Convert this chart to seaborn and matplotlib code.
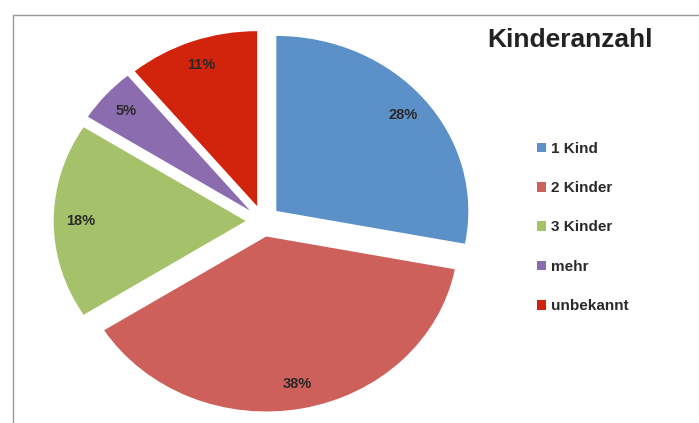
import matplotlib.pyplot as plt
import seaborn as sns
from matplotlib.lines import Line2D

categories = ['1 Kind', '2 Kinder', '3 Kinder', 'mehr', 'unbekannt']
shares = [28, 38, 18, 5, 11]
colors = ['#5B90C8', '#CD605B', '#A5C26A', '#8B6CAF', '#D2230C']

sns.set_theme(style='white')
plt.rcParams['font.family'] = ['Liberation Sans', 'DejaVu Sans']

fig = plt.figure(figsize=(6.99, 4.23), dpi=100)

# pie axes placed so the (stretched) pie sits left of center
W, H = 699, 423
cx, cy = 263, 221          # pie center, pixels from top-left
sx, sy = 192, 175          # pixels per unit radius
xl, yl = 1.2, 1.15
ax = fig.add_axes([(cx - xl * sx) / W, (H - cy - yl * sy) / H,
                   2 * xl * sx / W, 2 * yl * sy / H])

wedges, texts, autotexts = ax.pie(
    shares, colors=colors, startangle=90, counterclock=False,
    explode=[0.09] * len(shares), autopct='%d%%', pctdistance=0.86,
    wedgeprops=dict(linewidth=0),
    textprops=dict(fontsize=10.5, fontweight='bold', color='#2a2a2a'))
ax.set_aspect('auto')
ax.set_xlim(-xl, xl)
ax.set_ylim(-yl, yl)
ax.axis('off')

leg = fig.legend(wedges, categories, loc='upper left',
                 bbox_to_anchor=(523 / W, 1 - 128 / H),
                 frameon=False, handlelength=0.6, handleheight=0.6,
                 handletextpad=0.35, labelspacing=1.66,
                 prop=dict(size=11, weight='bold'))
for t in leg.get_texts():
    t.set_color('#2a2a2a')

fig.text(570 / W, 1 - 40 / H, 'Kinderanzahl', fontsize=19, fontweight='bold',
         color='#222222', ha='center', va='center')

# gray frame (top and left edges visible)
fig.add_artist(Line2D([13 / W, 1], [1 - 15 / H, 1 - 15 / H], color='#999999', lw=1))
fig.add_artist(Line2D([13 / W, 13 / W], [0, 1 - 15 / H], color='#999999', lw=1))

fig.savefig('out.png', dpi=100)
